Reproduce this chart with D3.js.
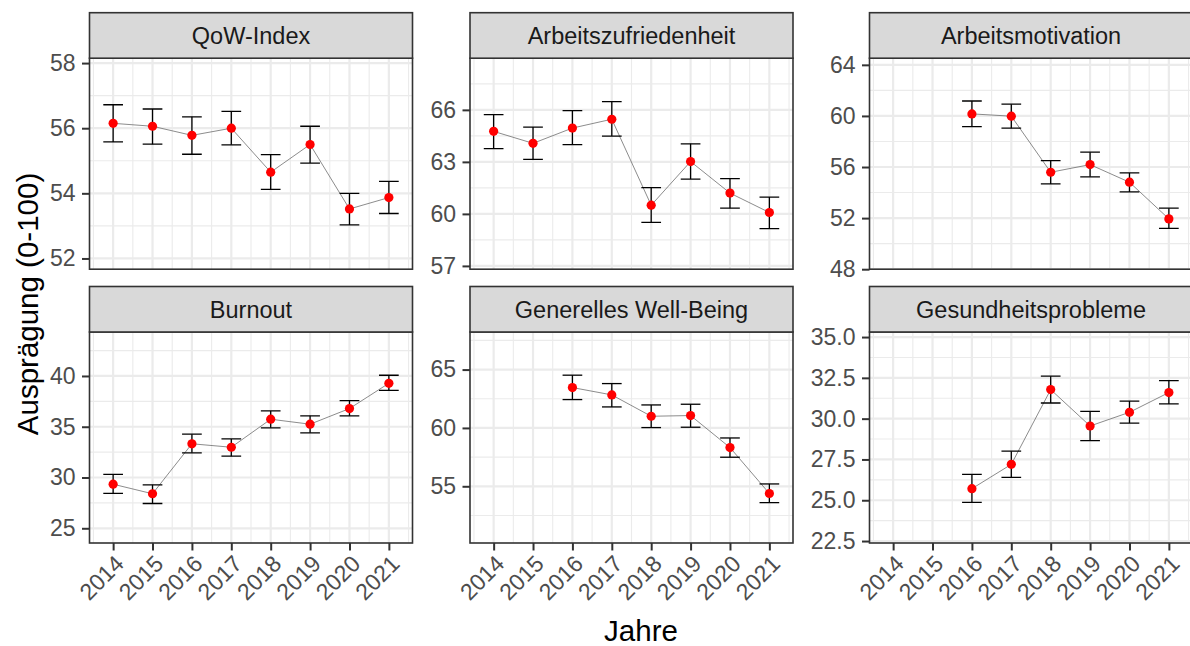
<!DOCTYPE html>
<html><head><meta charset="utf-8">
<script src="https://cdn.jsdelivr.net/npm/d3@7"></script>
<style>html,body{margin:0;padding:0;background:#fff;overflow:hidden}</style>
</head><body><svg id="c" width="1190" height="646"></svg>
<script>
// ---- data ----
const years = [2014, 2015, 2016, 2017, 2018, 2019, 2020, 2021];
const panelTitles = ["QoW-Index", "Arbeitszufriedenheit", "Arbeitsmotivation", "Burnout", "Generelles Well-Being", "Gesundheitsprobleme"];

const qowMean  = [56.15, 56.06, 55.78, 56.00, 54.65, 55.50, 53.52, 53.87];
const qowLow   = [55.58, 55.51, 55.20, 55.49, 54.12, 54.93, 53.03, 53.38];
const qowHigh  = [56.72, 56.59, 56.35, 56.52, 55.19, 56.06, 54.00, 54.37];

const azMean   = [64.76, 64.07, 64.95, 65.46, 60.50, 63.02, 61.20, 60.08];
const azLow    = [63.77, 63.14, 64.00, 64.49, 59.51, 62.01, 60.33, 59.15];
const azHigh   = [65.73, 65.01, 65.96, 66.48, 61.51, 64.04, 62.03, 60.97];

const amMean   = [null, null, 60.16, 59.98, 55.59, 56.19, 54.81, 51.94];
const amLow    = [null, null, 59.16, 59.04, 54.68, 55.23, 54.05, 51.19];
const amHigh   = [null, null, 61.17, 60.92, 56.50, 57.16, 55.54, 52.78];

const boMean   = [29.34, 28.40, 33.32, 32.98, 35.74, 35.25, 36.79, 39.28];
const boLow    = [28.43, 27.44, 32.43, 32.10, 34.89, 34.40, 36.07, 38.59];
const boHigh   = [30.30, 29.28, 34.27, 33.80, 36.56, 36.07, 37.58, 40.07];

const wbMean   = [null, null, 63.46, 62.83, 61.00, 61.06, 58.32, 54.38];
const wbLow    = [null, null, 62.43, 61.80, 60.03, 60.06, 57.49, 53.60];
const wbHigh   = [null, null, 64.52, 63.80, 61.97, 62.03, 59.14, 55.20];

const ghMean   = [null, null, 25.71, 27.20, 31.78, 29.55, 30.39, 31.60];
const ghLow    = [null, null, 24.87, 26.40, 30.96, 28.65, 29.73, 30.90];
const ghHigh   = [null, null, 26.58, 28.01, 32.60, 30.45, 31.08, 32.33];

// y-axis tick labels per panel
const qowTicks = [52, 54, 56, 58];
const azTicks  = [57, 60, 63, 66];
const amTicks  = [48, 52, 56, 60, 64];
const boTicks  = [25, 30, 35, 40];
const wbTicks  = [55, 60, 65];
const ghTicks  = [22.5, 25.0, 27.5, 30.0, 32.5, 35.0];

// axis limits per panel
const qowLim = [51.67, 58.15];
const azLim  = [56.81, 68.98];
const amLim  = [48.0, 64.52];
const boLim  = [23.55, 44.33];
const wbLim  = [50.14, 68.22];
const ghLim  = [22.38, 35.31];

const panels = [
  {title: panelTitles[0], mean: qowMean, low: qowLow, high: qowHigh, ticks: qowTicks, lim: qowLim, dec: 0},
  {title: panelTitles[1], mean: azMean,  low: azLow,  high: azHigh,  ticks: azTicks,  lim: azLim,  dec: 0},
  {title: panelTitles[2], mean: amMean,  low: amLow,  high: amHigh,  ticks: amTicks,  lim: amLim,  dec: 0},
  {title: panelTitles[3], mean: boMean,  low: boLow,  high: boHigh,  ticks: boTicks,  lim: boLim,  dec: 0},
  {title: panelTitles[4], mean: wbMean,  low: wbLow,  high: wbHigh,  ticks: wbTicks,  lim: wbLim,  dec: 0},
  {title: panelTitles[5], mean: ghMean,  low: ghLow,  high: ghHigh,  ticks: ghTicks,  lim: ghLim,  dec: 1},
];

// ---- layout ----
const colLeft = [89.5, 470, 869.5];
const panelW = 323;
const rowTop = [12.7, 286.5];
const stripH = 45.5;
const plotH = 211;
const tickLen = 7.5;
const FONT = "'Liberation Sans', Arial, sans-serif";
const gridCol = "#EBEBEB";
const dark = "#333333";

const svg = d3.select("#c");

panels.forEach((p, i) => {
  const col = i % 3, row = Math.floor(i / 3);
  const x0 = colLeft[col], sTop = rowTop[row], pTop = sTop + stripH, pBot = pTop + plotH;
  const g = svg.append("g");

  const x = d3.scaleLinear().domain([2013.4, 2021.6]).range([x0, x0 + panelW]);
  const y = d3.scaleLinear().domain(p.lim).range([pBot, pTop]);

  // clip
  const clipId = "clip" + i;
  svg.append("clipPath").attr("id", clipId).append("rect")
    .attr("x", x0).attr("y", pTop).attr("width", panelW).attr("height", plotH);
  const pg = g.append("g").attr("clip-path", `url(#${clipId})`);

  // grid minor
  const step = p.ticks[1] - p.ticks[0];
  const minorY = [];
  for (let v = p.ticks[0] - step / 2; v <= p.lim[1]; v += step) if (v >= p.lim[0]) minorY.push(v);
  const minorX = years.map(v => v - 0.5).concat([2021.5]);
  pg.selectAll(".mny").data(minorY).join("line")
    .attr("x1", x0).attr("x2", x0 + panelW).attr("y1", d => y(d)).attr("y2", d => y(d))
    .attr("stroke", gridCol).attr("stroke-width", 1.1);
  pg.selectAll(".mnx").data(minorX).join("line")
    .attr("y1", pTop).attr("y2", pBot).attr("x1", d => x(d)).attr("x2", d => x(d))
    .attr("stroke", gridCol).attr("stroke-width", 1.1);
  // grid major
  pg.selectAll(".mjy").data(p.ticks).join("line")
    .attr("x1", x0).attr("x2", x0 + panelW).attr("y1", d => y(d)).attr("y2", d => y(d))
    .attr("stroke", gridCol).attr("stroke-width", 2.2);
  pg.selectAll(".mjx").data(years).join("line")
    .attr("y1", pTop).attr("y2", pBot).attr("x1", d => x(d)).attr("x2", d => x(d))
    .attr("stroke", gridCol).attr("stroke-width", 2.2);

  const pts = years.map((yr, k) => ({yr, m: p.mean[k], lo: p.low[k], hi: p.high[k]})).filter(d => d.m != null);

  // connecting line
  pg.append("path").datum(pts)
    .attr("d", d3.line().x(d => x(d.yr)).y(d => y(d.m)))
    .attr("fill", "none").attr("stroke", "#5a5a5a").attr("stroke-width", 0.7);

  // error bars
  const capHalf = x(2014.25) - x(2014);
  const eb = pg.selectAll(".eb").data(pts).join("g").attr("stroke", "#000").attr("stroke-width", 1.3);
  eb.append("line").attr("x1", d => x(d.yr)).attr("x2", d => x(d.yr)).attr("y1", d => y(d.lo)).attr("y2", d => y(d.hi));
  eb.append("line").attr("x1", d => x(d.yr) - capHalf).attr("x2", d => x(d.yr) + capHalf).attr("y1", d => y(d.lo)).attr("y2", d => y(d.lo));
  eb.append("line").attr("x1", d => x(d.yr) - capHalf).attr("x2", d => x(d.yr) + capHalf).attr("y1", d => y(d.hi)).attr("y2", d => y(d.hi));

  // points
  pg.selectAll(".pt").data(pts).join("circle")
    .attr("cx", d => x(d.yr)).attr("cy", d => y(d.m)).attr("r", 4.6).attr("fill", "#FF0000");

  // panel border
  g.append("rect").attr("x", x0).attr("y", pTop).attr("width", panelW).attr("height", plotH)
    .attr("fill", "none").attr("stroke", dark).attr("stroke-width", 1.6);

  // strip
  g.append("rect").attr("x", x0).attr("y", sTop).attr("width", panelW).attr("height", stripH)
    .attr("fill", "#D9D9D9").attr("stroke", dark).attr("stroke-width", 1.6);
  g.append("text").attr("x", x0 + panelW / 2).attr("y", sTop + stripH / 2).attr("dy", "0.36em")
    .attr("text-anchor", "middle").attr("font-family", FONT).attr("font-size", 23.5).attr("fill", "#1A1A1A")
    .text(p.title);

  // y axis
  const yAxis = d3.axisLeft(y).tickValues(p.ticks).tickSize(tickLen).tickPadding(6.5)
    .tickFormat(d3.format(p.dec ? ".1f" : "d"));
  const ya = g.append("g").attr("transform", `translate(${x0},0)`).call(yAxis);
  ya.select(".domain").remove();
  ya.selectAll(".tick line").attr("stroke", dark).attr("stroke-width", 2);
  ya.selectAll(".tick text").attr("font-family", FONT).attr("font-size", 23).attr("fill", "#4D4D4D");

  // x axis (bottom row only)
  if (row === 1) {
    const xAxis = d3.axisBottom(x).tickValues(years).tickSize(tickLen).tickFormat(d3.format("d"));
    const xa = g.append("g").attr("transform", `translate(0,${pBot})`).call(xAxis);
    xa.select(".domain").remove();
    xa.selectAll(".tick line").attr("stroke", dark).attr("stroke-width", 2);
    xa.selectAll(".tick text")
      .attr("font-family", FONT).attr("font-size", 23).attr("fill", "#4D4D4D")
      .attr("text-anchor", "end").attr("y", 0).attr("dy", "0.72em")
      .attr("transform", `translate(0,${tickLen + 3}) rotate(-45)`);
  }
});

// axis titles
svg.append("text").attr("x", 641).attr("y", 641).attr("text-anchor", "middle")
  .attr("font-family", FONT).attr("font-size", 29.5).attr("fill", "#000").text("Jahre");
svg.append("text").attr("transform", "translate(38,304) rotate(-90)").attr("text-anchor", "middle")
  .attr("font-family", FONT).attr("font-size", 29.5).attr("fill", "#000").text("Ausprägung (0-100)");
</script>
</body></html>
